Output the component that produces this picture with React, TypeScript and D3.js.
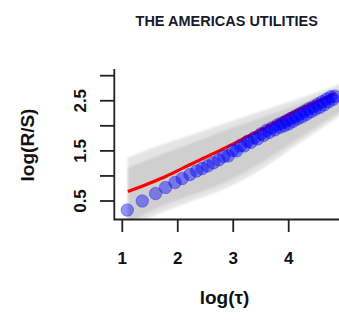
import React from "react";
import * as d3 from "d3";

const title = "THE AMERICAS UTILITIES";
const xTicks = [1, 2, 3, 4];
const yTicks = [0.5, 1, 1.5, 2, 2.5, 3];
const yTickLabels = ["0.5", "", "1.5", "", "2.5", ""];

// simulated envelope (grey bands)
const bandX = [1.0986, 1.45, 1.68, 2.2, 2.83, 3.5, 4.2, 4.95];
const outerUpper = [1.37, 1.52, 1.61, 1.8, 2.04, 2.29, 2.55, 2.84];
const outerLower = [-0.1, 0.14, 0.26, 0.48, 0.74, 1.13, 1.66, 2.22];
const innerUpper = [1.16, 1.32, 1.42, 1.63, 1.9, 2.16, 2.44, 2.76];
const innerLower = [0.02, 0.26, 0.38, 0.6, 0.86, 1.26, 1.76, 2.3];

// expected R/S (red)
const redX = [1.1, 1.5, 1.8, 2.1, 2.4, 2.67, 3.0, 3.3, 3.6, 3.84, 4.05, 4.4, 4.83];
const redY = [0.69, 0.86, 1.0, 1.16, 1.32, 1.46, 1.64, 1.81, 1.98, 2.12, 2.25, 2.43, 2.64];

// observed R/S (blue)
const logTau = [
  1.09, 1.36, 1.6, 1.78, 1.95, 2.08, 2.22, 2.34, 2.44, 2.54, 2.64, 2.74,
  2.83, 2.91, 2.99, 3.06, 3.13, 3.2, 3.26, 3.32, 3.38, 3.44, 3.5, 3.55,
  3.6, 3.65, 3.7, 3.75, 3.8, 3.84, 3.88, 3.92, 3.96, 4.0, 4.04, 4.08,
  4.12, 4.16, 4.2, 4.24, 4.28, 4.32, 4.36, 4.4, 4.44, 4.48, 4.52, 4.56,
  4.6, 4.64, 4.68, 4.72, 4.76, 4.8, 4.83,
];
const logRS = [
  0.32, 0.5, 0.65, 0.77, 0.87, 0.95, 1.03, 1.1, 1.15, 1.2, 1.26, 1.32,
  1.39, 1.4, 1.51, 1.5, 1.6, 1.6, 1.69, 1.67, 1.76, 1.74, 1.84, 1.81,
  1.91, 1.87, 1.96, 1.92, 2.02, 1.97, 2.06, 2.0, 2.1, 2.04, 2.15, 2.09,
  2.19, 2.14, 2.24, 2.18, 2.29, 2.23, 2.34, 2.28, 2.38, 2.33, 2.43, 2.37,
  2.48, 2.42, 2.53, 2.48, 2.58, 2.53, 2.59,
];

const W = 339;
const H = 322;
const left = 114.3;
const bottom = 219.5;
const top = 69;
const right = 339;

export default function App() {
  const x = d3.scaleLinear().domain([1, 4]).range([122.3, 288.7]);
  const y = d3.scaleLinear().domain([0.5, 3]).range([201, 75.7]);

  const band = (up: number[], lo: number[]) =>
    d3
      .area<number>()
      .x((_, i) => x(bandX[i]))
      .y0((_, i) => y(lo[i]))
      .y1((_, i) => y(up[i]))
      .curve(d3.curveMonotoneX)(bandX) || "";

  const redPath =
    d3
      .line<number>()
      .x((_, i) => x(redX[i]))
      .y((d) => y(d))
      .curve(d3.curveMonotoneX)(redY) || "";

  const font = "'Liberation Sans', Arial, sans-serif";

  return (
    <svg
      width={W}
      height={H}
      style={{ position: "absolute", left: 0, top: 0, background: "#fff" }}
      fontFamily={font}
    >
      <defs>
        <clipPath id="plot">
          <rect x={left} y={top} width={right - left} height={bottom - top} />
        </clipPath>
        <filter id="blur1" x="-10%" y="-10%" width="120%" height="120%">
          <feGaussianBlur stdDeviation="1.1" />
        </filter>
      </defs>
      <g clipPath="url(#plot)">
        <g filter="url(#blur1)">
          <path d={band(outerUpper, outerLower)} fill="#e4e4e4" />
          <path d={band(innerUpper, innerLower)} fill="#cfcfcf" />
        </g>
        <path d={redPath} fill="none" stroke="#ff0000" strokeWidth={3.2} />
        {logTau.map((t, i) => (
          <circle
            key={i}
            cx={x(t)}
            cy={y(logRS[i])}
            r={6.3}
            fill="#0000ff"
            fillOpacity={0.42}
            stroke="#0000ff"
            strokeOpacity={0.3}
            strokeWidth={1}
          />
        ))}
      </g>
      {/* L box */}
      <path
        d={`M${left},${top}V${bottom}H${right}`}
        fill="none"
        stroke="#222"
        strokeWidth={1.8}
      />
      {yTicks.map((t, i) => (
        <g key={"y" + i}>
          <line x1={100} x2={left} y1={y(t)} y2={y(t)} stroke="#222" strokeWidth={1.8} />
          {yTickLabels[i] && (
            <text
              transform={`translate(86,${y(t)}) rotate(-90)`}
              textAnchor="middle"
              fontSize={17}
              fontWeight="bold"
              fill="#111"
            >
              {yTickLabels[i]}
            </text>
          )}
        </g>
      ))}
      {xTicks.map((t) => (
        <g key={"x" + t}>
          <line x1={x(t)} x2={x(t)} y1={bottom} y2={232} stroke="#222" strokeWidth={1.8} />
          <text x={x(t)} y={263.5} textAnchor="middle" fontSize={17} fontWeight="bold" fill="#111">
            {t}
          </text>
        </g>
      ))}
      <text x={226.7} y={25.7} textAnchor="middle" fontSize={14.5} fontWeight="bold" fill="#1a1a2a">
        {title}
      </text>
      <text x={224.5} y={304} textAnchor="middle" fontSize={19} fontWeight="bold" fill="#111">
        log(τ)
      </text>
      <text
        transform="translate(34,145) rotate(-90)"
        textAnchor="middle"
        fontSize={19}
        fontWeight="bold"
        fill="#111"
      >
        log(R/S)
      </text>
    </svg>
  );
}
